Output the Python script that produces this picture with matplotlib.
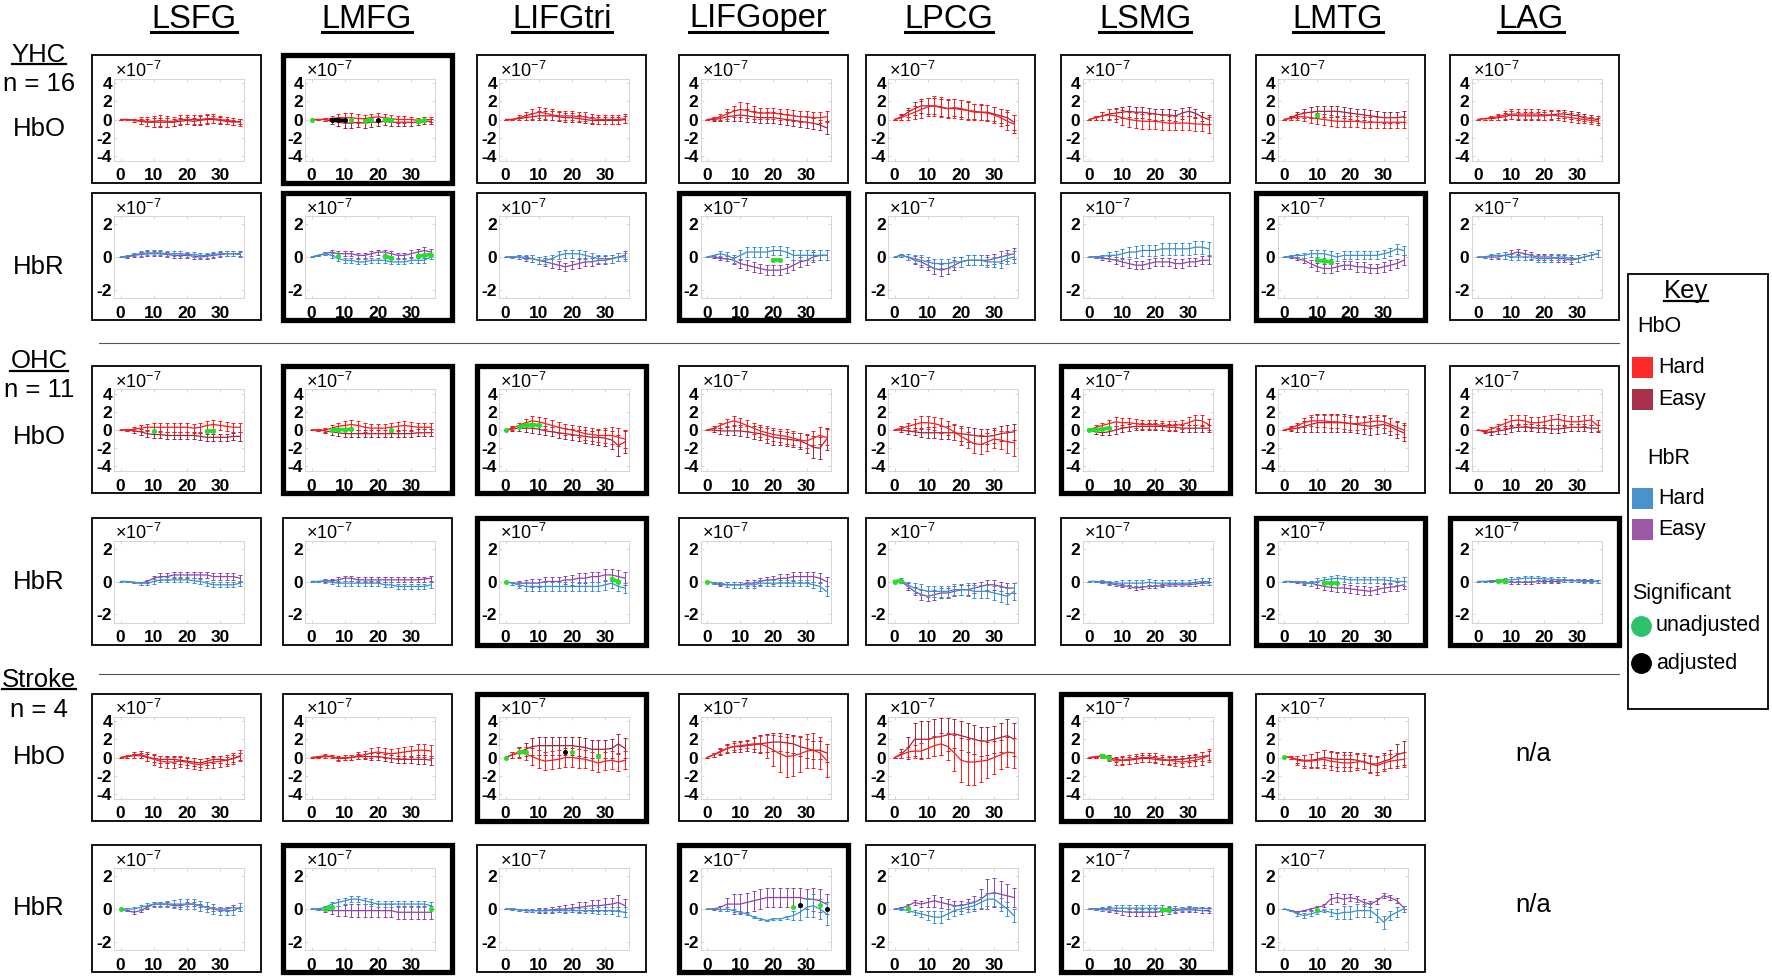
import matplotlib
matplotlib.use('Agg')
import matplotlib.pyplot as plt
from matplotlib.patches import Rectangle
from matplotlib.lines import Line2D

plt.rcParams['font.family'] = ['Liberation Sans', 'DejaVu Sans']
plt.rcParams['mathtext.fontset'] = 'custom'
plt.rcParams['mathtext.rm'] = 'Liberation Sans'
plt.rcParams['mathtext.it'] = 'Liberation Sans:italic'
plt.rcParams['mathtext.bf'] = 'Liberation Sans:bold'
plt.rcParams['axes.unicode_minus'] = False

# ---------------- data (units of 1e-7) ----------------
time_s = [0, 2, 4, 6, 8, 10, 12, 14, 16, 18, 20, 22, 24, 26, 28, 30, 32, 34, 36]
regions = ['LSFG', 'LMFG', 'LIFGtri', 'LIFGoper', 'LPCG', 'LSMG', 'LMTG', 'LAG']
groups = [('YHC', 'n = 16'), ('OHC', 'n = 11'), ('Stroke', 'n = 4')]

# YHC HbO
yhc_hbo_hard = [
    [0, 0, -0.1, -0.1, -0.2, -0.2, -0.1, -0.2, -0.2, 0, 0, 0, 0, 0.1, 0.1, 0, -0.1, -0.2, -0.3],
    [0, 0, 0, 0.1, 0.2, 0.2, 0.2, 0.1, 0.1, 0.2, 0.3, 0.2, 0.1, 0, 0, 0, -0.1, 0, 0],
    [0, 0, 0.2, 0.4, 0.6, 0.8, 0.7, 0.5, 0.4, 0.4, 0.4, 0.3, 0.3, 0.1, 0, 0, 0, 0, 0.1],
    [0, 0.1, 0.3, 0.6, 0.9, 1.1, 1.0, 0.8, 0.7, 0.7, 0.7, 0.6, 0.5, 0.4, 0.3, 0.3, 0.2, 0.2, 0.3],
    [0, 0.2, 0.5, 0.8, 1.1, 1.4, 1.5, 1.4, 1.2, 1.2, 1.1, 1.0, 0.8, 0.8, 0.7, 0.5, 0.2, -0.2, -0.5],
    [0, 0.2, 0.4, 0.5, 0.4, 0.2, 0, -0.1, -0.2, -0.2, -0.2, -0.3, -0.4, -0.4, -0.4, -0.4, -0.5, -0.5, -0.6],
    [0, 0.1, 0.3, 0.3, 0.2, 0.1, 0, -0.1, -0.2, -0.2, -0.2, -0.2, -0.3, -0.3, -0.3, -0.3, -0.3, -0.3, -0.3],
    [0, 0.1, 0.2, 0.3, 0.5, 0.6, 0.6, 0.6, 0.6, 0.6, 0.5, 0.5, 0.4, 0.3, 0.2, 0.1, 0, -0.1, -0.2],
]
yhc_hbo_easy = [
    [0, 0, -0.1, -0.2, -0.3, -0.3, -0.3, -0.3, -0.3, -0.2, -0.1, -0.2, -0.1, 0, 0, -0.1, -0.2, -0.3, -0.2],
    [0, 0, 0, -0.2, -0.3, -0.4, -0.4, -0.3, -0.4, -0.3, -0.3, -0.2, -0.3, -0.3, -0.3, -0.3, -0.3, -0.2, -0.2],
    [0, 0, 0.1, 0.2, 0.3, 0.4, 0.4, 0.4, 0.3, 0.2, 0.2, 0.1, 0, -0.1, -0.1, -0.1, -0.1, -0.1, 0],
    [0, 0, 0.1, 0.3, 0.4, 0.5, 0.4, 0.3, 0.2, 0.2, 0.2, 0.1, 0, -0.1, -0.2, -0.3, -0.4, -0.6, -0.9],
    [0, 0.3, 0.8, 1.2, 1.5, 1.5, 1.5, 1.3, 1.2, 1.3, 1.2, 1.0, 0.9, 0.8, 0.8, 0.6, 0.4, 0.2, -0.3],
    [0, 0.2, 0.4, 0.6, 0.7, 0.8, 0.9, 0.8, 0.8, 0.7, 0.6, 0.5, 0.5, 0.4, 0.7, 0.9, 0.7, 0.3, 0],
    [0, 0.2, 0.5, 0.7, 0.8, 0.9, 0.9, 0.9, 0.9, 0.8, 0.7, 0.6, 0.5, 0.4, 0.3, 0.2, 0.2, 0.2, 0.3],
    [0, 0.1, 0.1, 0.2, 0.3, 0.5, 0.4, 0.4, 0.4, 0.4, 0.4, 0.5, 0.6, 0.6, 0.5, 0.4, 0.2, 0.1, 0],
]
yhc_hbo_hard_err = [
    [0, 0.1, 0.2, 0.4, 0.5, 0.6, 0.6, 0.6, 0.5, 0.5, 0.5, 0.5, 0.5, 0.5, 0.5, 0.4, 0.4, 0.4, 0.4],
    [0, 0.1, 0.2, 0.3, 0.4, 0.5, 0.5, 0.5, 0.4, 0.4, 0.4, 0.4, 0.4, 0.4, 0.4, 0.3, 0.3, 0.3, 0.3],
    [0, 0.1, 0.3, 0.4, 0.5, 0.6, 0.6, 0.6, 0.5, 0.5, 0.5, 0.5, 0.5, 0.5, 0.5, 0.5, 0.5, 0.5, 0.5],
    [0, 0.2, 0.3, 0.5, 0.6, 0.8, 0.8, 0.7, 0.6, 0.6, 0.6, 0.6, 0.6, 0.6, 0.6, 0.6, 0.6, 0.6, 0.6],
    [0, 0.3, 0.5, 0.7, 0.9, 1.0, 1.1, 1.1, 1.0, 1.0, 1.0, 1.0, 0.9, 0.9, 0.9, 0.9, 0.9, 1.0, 1.0],
    [0, 0.2, 0.4, 0.6, 0.7, 0.8, 0.8, 0.8, 0.8, 0.8, 0.8, 0.8, 0.8, 0.8, 0.8, 0.8, 0.8, 0.8, 0.9],
    [0, 0.2, 0.3, 0.5, 0.6, 0.6, 0.6, 0.6, 0.6, 0.6, 0.6, 0.6, 0.6, 0.6, 0.6, 0.6, 0.6, 0.6, 0.6],
    [0, 0.1, 0.2, 0.3, 0.4, 0.5, 0.5, 0.5, 0.5, 0.5, 0.5, 0.5, 0.5, 0.5, 0.5, 0.5, 0.4, 0.4, 0.4],
]
yhc_hbo_easy_err = [
    [0, 0.1, 0.2, 0.3, 0.4, 0.5, 0.5, 0.5, 0.4, 0.4, 0.4, 0.4, 0.5, 0.5, 0.4, 0.4, 0.3, 0.3, 0.3],
    [0, 0.1, 0.2, 0.3, 0.4, 0.5, 0.5, 0.5, 0.5, 0.5, 0.4, 0.4, 0.4, 0.4, 0.4, 0.4, 0.3, 0.3, 0.3],
    [0, 0.1, 0.2, 0.3, 0.4, 0.5, 0.5, 0.5, 0.5, 0.5, 0.5, 0.4, 0.4, 0.4, 0.4, 0.4, 0.4, 0.4, 0.4],
    [0, 0.2, 0.3, 0.5, 0.6, 0.7, 0.7, 0.6, 0.6, 0.6, 0.6, 0.6, 0.6, 0.6, 0.6, 0.6, 0.6, 0.6, 0.7],
    [0, 0.3, 0.5, 0.7, 0.8, 0.9, 0.9, 0.9, 0.9, 0.9, 0.9, 0.9, 0.8, 0.8, 0.8, 0.8, 0.8, 0.8, 0.8],
    [0, 0.2, 0.4, 0.5, 0.6, 0.6, 0.6, 0.6, 0.6, 0.6, 0.6, 0.6, 0.6, 0.6, 0.6, 0.5, 0.5, 0.5, 0.5],
    [0, 0.2, 0.3, 0.5, 0.6, 0.6, 0.6, 0.6, 0.6, 0.6, 0.6, 0.6, 0.6, 0.6, 0.6, 0.6, 0.6, 0.6, 0.6],
    [0, 0.1, 0.2, 0.3, 0.4, 0.4, 0.4, 0.4, 0.4, 0.4, 0.4, 0.4, 0.4, 0.4, 0.4, 0.4, 0.4, 0.4, 0.4],
]

# YHC HbR
yhc_hbr_hard = [
    [0, 0.05, 0.15, 0.2, 0.25, 0.25, 0.25, 0.2, 0.2, 0.2, 0.15, 0.15, 0.1, 0.1, 0.15, 0.2, 0.2, 0.2, 0.15],
    [0, 0.1, 0.2, 0.1, -0.1, -0.2, -0.2, -0.3, -0.3, -0.2, -0.2, -0.2, -0.3, -0.3, -0.3, -0.2, -0.2, -0.2, 0],
    [0, 0, 0, 0, -0.1, -0.2, -0.2, -0.1, 0.1, 0.2, 0.2, 0.2, 0.1, 0, -0.1, -0.1, -0.1, 0, 0],
    [0, 0.1, 0.2, 0.1, -0.1, 0.1, 0.3, 0.3, 0.3, 0.3, 0.4, 0.4, 0.3, 0.1, 0.1, 0.1, 0.1, 0.1, 0.1],
    [0, 0.1, 0, -0.1, -0.2, -0.3, -0.4, -0.4, -0.4, -0.3, -0.3, -0.2, -0.2, -0.2, -0.3, -0.3, -0.3, -0.1, 0],
    [0, 0, 0.05, 0.1, 0.1, 0.2, 0.3, 0.3, 0.4, 0.4, 0.4, 0.5, 0.5, 0.5, 0.5, 0.5, 0.6, 0.6, 0.5],
    [0, 0.05, 0.1, 0.1, 0.2, 0.2, 0.2, 0.1, 0, 0.1, 0.1, 0.1, 0.1, 0.1, 0.1, 0.2, 0.3, 0.5, 0.4],
    [0, 0, 0.1, 0.1, 0.1, 0, 0, 0, 0, -0.1, -0.1, -0.1, 0, 0, -0.1, -0.1, 0, 0.1, 0.2],
]
yhc_hbr_easy = [
    [0, 0, 0.1, 0.15, 0.2, 0.2, 0.2, 0.15, 0.1, 0.1, 0.1, 0.05, 0, 0.05, 0.1, 0.15, 0.2, 0.2, 0.2],
    [0, 0.1, 0.2, 0.3, 0.2, 0.2, 0.2, 0.1, 0.1, 0.2, 0.3, 0.3, 0.2, 0.1, 0.1, 0.2, 0.3, 0.4, 0.3],
    [0, 0, 0, -0.1, -0.1, -0.2, -0.3, -0.4, -0.5, -0.6, -0.5, -0.4, -0.3, -0.3, -0.2, -0.2, -0.1, 0, 0.1],
    [0, 0, -0.1, -0.1, -0.2, -0.4, -0.5, -0.6, -0.7, -0.8, -0.8, -0.8, -0.7, -0.5, -0.3, -0.2, 0, 0.1, 0.1],
    [0, 0.1, 0, -0.2, -0.3, -0.5, -0.7, -0.8, -0.7, -0.5, -0.3, -0.2, -0.2, -0.2, -0.2, -0.1, 0, 0.1, 0.2],
    [0, 0, -0.1, -0.1, -0.2, -0.3, -0.4, -0.5, -0.5, -0.4, -0.3, -0.3, -0.3, -0.4, -0.4, -0.3, -0.3, -0.2, -0.2],
    [0, 0, -0.1, -0.2, -0.4, -0.6, -0.7, -0.7, -0.6, -0.5, -0.5, -0.6, -0.6, -0.7, -0.7, -0.6, -0.5, -0.4, -0.2],
    [0, 0, 0, 0, 0.1, 0.2, 0.3, 0.2, 0.1, 0, 0, 0, -0.1, -0.1, -0.2, -0.1, 0, 0.1, 0.2],
]
yhc_hbr_hard_err = [
    [0, 0.05, 0.1, 0.15, 0.15, 0.15, 0.15, 0.15, 0.15, 0.15, 0.15, 0.15, 0.15, 0.15, 0.15, 0.15, 0.15, 0.15, 0.15],
    [0, 0.05, 0.1, 0.15, 0.15, 0.15, 0.15, 0.15, 0.15, 0.15, 0.15, 0.15, 0.15, 0.15, 0.15, 0.15, 0.15, 0.15, 0.15],
    [0, 0.05, 0.1, 0.15, 0.2, 0.2, 0.25, 0.25, 0.25, 0.25, 0.25, 0.25, 0.25, 0.25, 0.25, 0.25, 0.25, 0.25, 0.25],
    [0, 0.05, 0.15, 0.2, 0.25, 0.3, 0.3, 0.3, 0.3, 0.3, 0.3, 0.3, 0.3, 0.3, 0.3, 0.3, 0.3, 0.3, 0.3],
    [0, 0.1, 0.2, 0.25, 0.3, 0.3, 0.3, 0.3, 0.3, 0.3, 0.3, 0.3, 0.3, 0.3, 0.3, 0.3, 0.35, 0.35, 0.35],
    [0, 0.05, 0.1, 0.2, 0.25, 0.3, 0.3, 0.35, 0.35, 0.35, 0.35, 0.35, 0.35, 0.35, 0.35, 0.35, 0.4, 0.4, 0.4],
    [0, 0.05, 0.1, 0.15, 0.2, 0.2, 0.25, 0.25, 0.25, 0.25, 0.25, 0.25, 0.25, 0.25, 0.25, 0.25, 0.25, 0.3, 0.3],
    [0, 0.05, 0.1, 0.15, 0.2, 0.2, 0.2, 0.2, 0.2, 0.2, 0.2, 0.2, 0.2, 0.2, 0.2, 0.2, 0.2, 0.2, 0.2],
]
yhc_hbr_easy_err = [
    [0, 0.05, 0.1, 0.15, 0.15, 0.15, 0.15, 0.15, 0.15, 0.15, 0.15, 0.15, 0.15, 0.15, 0.15, 0.15, 0.15, 0.15, 0.15],
    [0, 0.05, 0.1, 0.15, 0.15, 0.15, 0.15, 0.15, 0.15, 0.15, 0.15, 0.15, 0.15, 0.15, 0.15, 0.2, 0.2, 0.2, 0.2],
    [0, 0.05, 0.1, 0.15, 0.2, 0.2, 0.25, 0.25, 0.25, 0.25, 0.25, 0.25, 0.25, 0.25, 0.25, 0.25, 0.25, 0.25, 0.25],
    [0, 0.05, 0.1, 0.15, 0.2, 0.25, 0.3, 0.3, 0.3, 0.3, 0.3, 0.3, 0.3, 0.3, 0.3, 0.3, 0.3, 0.3, 0.3],
    [0, 0.1, 0.2, 0.25, 0.3, 0.3, 0.35, 0.35, 0.35, 0.3, 0.3, 0.3, 0.3, 0.3, 0.3, 0.3, 0.35, 0.35, 0.35],
    [0, 0.05, 0.1, 0.15, 0.2, 0.25, 0.25, 0.25, 0.25, 0.25, 0.25, 0.25, 0.25, 0.25, 0.25, 0.25, 0.25, 0.25, 0.25],
    [0, 0.05, 0.1, 0.15, 0.2, 0.25, 0.25, 0.25, 0.25, 0.25, 0.25, 0.3, 0.3, 0.3, 0.3, 0.3, 0.3, 0.3, 0.3],
    [0, 0.05, 0.1, 0.15, 0.2, 0.2, 0.2, 0.2, 0.2, 0.2, 0.2, 0.2, 0.2, 0.2, 0.2, 0.2, 0.2, 0.2, 0.2],
]

# OHC HbO
ohc_hbo_hard = [
    [0, 0, 0.1, 0.2, 0.3, 0.3, 0.3, 0.3, 0.3, 0.3, 0.3, 0.2, 0.3, 0.5, 0.6, 0.5, 0.4, 0.3, 0.3],
    [0, 0, 0, 0.2, 0.4, 0.5, 0.6, 0.5, 0.3, 0.2, 0.2, 0.2, 0.3, 0.4, 0.5, 0.4, 0.3, 0.3, 0.3],
    [0, 0.2, 0.5, 0.8, 1.0, 0.9, 0.7, 0.5, 0.3, 0.1, 0, -0.2, -0.4, -0.5, -0.6, -0.6, -0.6, -0.8, -1.0],
    [0, 0.2, 0.5, 0.8, 1.0, 0.8, 0.5, 0.2, -0.1, -0.3, -0.5, -0.6, -0.7, -0.9, -1.1, -1.2, -0.9, -0.6, -0.8],
    [0, 0.2, 0.4, 0.6, 0.8, 0.8, 0.7, 0.5, 0.2, -0.2, -0.7, -1.1, -1.5, -1.6, -1.3, -1.0, -1.1, -1.3, -1.4],
    [0, 0.3, 0.5, 0.7, 0.9, 0.8, 0.8, 0.7, 0.6, 0.6, 0.6, 0.5, 0.5, 0.5, 0.6, 0.8, 1.1, 1.0, 0.6],
    [0, 0.2, 0.5, 0.8, 1.0, 1.0, 1.0, 0.9, 0.9, 0.8, 0.7, 0.7, 0.8, 0.9, 1.0, 0.9, 0.6, 0.3, 0],
    [0, -0.1, 0.1, 0.4, 0.7, 1.0, 1.1, 1.0, 0.8, 0.8, 0.9, 1.1, 1.2, 1.0, 0.9, 0.9, 1.0, 1.1, 0.5],
]
ohc_hbo_easy = [
    [0, 0, -0.1, -0.2, -0.4, -0.5, -0.5, -0.6, -0.6, -0.6, -0.6, -0.6, -0.7, -0.8, -0.8, -0.8, -0.8, -0.7, -0.7],
    [0, 0, -0.1, -0.2, -0.3, -0.4, -0.4, -0.4, -0.4, -0.4, -0.4, -0.4, -0.4, -0.4, -0.4, -0.4, -0.3, -0.3, -0.3],
    [0, 0.1, 0.2, 0.2, 0.2, 0.1, -0.1, -0.2, -0.3, -0.4, -0.5, -0.6, -0.7, -0.8, -0.8, -0.9, -1.1, -1.7, -1.3],
    [0, 0, -0.1, -0.1, -0.1, -0.1, -0.2, -0.3, -0.4, -0.6, -0.8, -0.9, -1.0, -1.1, -1.2, -1.5, -1.9, -2.0, -1.0],
    [0, 0, -0.1, -0.2, -0.3, -0.3, -0.3, -0.3, -0.3, -0.3, -0.4, -0.5, -0.6, -0.7, -0.7, -0.6, -0.4, -0.3, -0.2],
    [0, -0.2, -0.3, -0.2, 0, 0.2, 0.3, 0.4, 0.4, 0.4, 0.4, 0.4, 0.3, 0.3, 0.2, 0.2, 0.2, 0.2, 0.2],
    [0, 0.1, 0.2, 0.4, 0.6, 0.8, 0.8, 0.8, 0.8, 0.8, 0.7, 0.6, 0.5, 0.4, 0.5, 0.6, 0.4, 0, -0.3],
    [0, -0.2, -0.3, -0.1, 0, 0.2, 0.3, 0.3, 0.3, 0.2, 0.2, 0.1, 0.1, 0.2, 0.3, 0.3, 0.3, 0.2, 0.2],
]
ohc_hbo_hard_err = [
    [0, 0.1, 0.2, 0.3, 0.4, 0.5, 0.5, 0.5, 0.5, 0.5, 0.5, 0.5, 0.5, 0.5, 0.5, 0.5, 0.5, 0.5, 0.5],
    [0, 0.1, 0.2, 0.3, 0.4, 0.5, 0.5, 0.5, 0.5, 0.5, 0.5, 0.5, 0.5, 0.5, 0.5, 0.5, 0.5, 0.5, 0.5],
    [0, 0.2, 0.3, 0.4, 0.5, 0.5, 0.6, 0.6, 0.6, 0.6, 0.6, 0.6, 0.7, 0.7, 0.7, 0.8, 0.9, 1.0, 1.0],
    [0, 0.2, 0.3, 0.4, 0.5, 0.5, 0.6, 0.6, 0.7, 0.7, 0.7, 0.7, 0.8, 0.8, 0.8, 0.8, 0.8, 0.9, 0.9],
    [0, 0.2, 0.4, 0.6, 0.7, 0.7, 0.7, 0.8, 0.8, 0.9, 0.9, 0.9, 1.0, 1.0, 1.0, 1.0, 1.0, 1.2, 1.4],
    [0, 0.2, 0.3, 0.4, 0.5, 0.5, 0.5, 0.5, 0.5, 0.5, 0.5, 0.5, 0.5, 0.5, 0.5, 0.6, 0.6, 0.6, 0.6],
    [0, 0.2, 0.3, 0.5, 0.6, 0.7, 0.7, 0.7, 0.7, 0.7, 0.7, 0.7, 0.7, 0.7, 0.7, 0.7, 0.7, 0.7, 0.8],
    [0, 0.1, 0.2, 0.3, 0.5, 0.6, 0.6, 0.6, 0.6, 0.6, 0.6, 0.6, 0.6, 0.6, 0.6, 0.6, 0.6, 0.6, 0.6],
]
ohc_hbo_easy_err = [
    [0, 0.1, 0.2, 0.3, 0.4, 0.4, 0.4, 0.4, 0.4, 0.4, 0.4, 0.4, 0.4, 0.4, 0.4, 0.4, 0.4, 0.4, 0.5],
    [0, 0.1, 0.2, 0.3, 0.4, 0.4, 0.4, 0.4, 0.4, 0.4, 0.4, 0.4, 0.4, 0.4, 0.4, 0.4, 0.4, 0.4, 0.4],
    [0, 0.2, 0.3, 0.4, 0.5, 0.5, 0.5, 0.5, 0.6, 0.6, 0.6, 0.6, 0.7, 0.7, 0.8, 0.9, 1.0, 1.2, 1.2],
    [0, 0.2, 0.3, 0.4, 0.5, 0.6, 0.6, 0.7, 0.7, 0.8, 0.8, 0.8, 0.8, 0.8, 0.9, 1.0, 1.2, 1.2, 1.2],
    [0, 0.2, 0.3, 0.4, 0.5, 0.6, 0.6, 0.7, 0.7, 0.8, 0.8, 0.8, 0.8, 0.8, 0.8, 0.8, 0.8, 0.9, 0.9],
    [0, 0.2, 0.3, 0.3, 0.4, 0.4, 0.4, 0.4, 0.4, 0.4, 0.4, 0.4, 0.4, 0.4, 0.4, 0.4, 0.4, 0.4, 0.4],
    [0, 0.2, 0.4, 0.6, 0.8, 1.0, 1.0, 1.0, 1.0, 1.0, 0.9, 0.9, 0.9, 0.9, 0.9, 0.9, 0.9, 0.9, 0.9],
    [0, 0.1, 0.2, 0.3, 0.4, 0.4, 0.4, 0.4, 0.4, 0.4, 0.4, 0.4, 0.4, 0.4, 0.4, 0.4, 0.4, 0.4, 0.4],
]

# OHC HbR
ohc_hbr_hard = [
    [0, 0, -0.05, -0.1, -0.1, 0, 0.1, 0.1, 0.1, 0.1, 0.1, 0.05, 0, -0.1, -0.2, -0.2, -0.2, -0.2, -0.1],
    [0, 0, 0, -0.05, -0.1, -0.1, -0.1, -0.1, -0.1, -0.1, -0.1, -0.2, -0.2, -0.3, -0.3, -0.3, -0.3, -0.3, -0.2],
    [0, -0.1, -0.2, -0.3, -0.3, -0.3, -0.3, -0.3, -0.3, -0.3, -0.3, -0.3, -0.3, -0.3, -0.3, -0.2, -0.1, -0.3, -0.4],
    [0, -0.1, -0.1, -0.2, -0.2, -0.2, -0.2, -0.2, -0.1, -0.1, -0.1, -0.1, -0.1, -0.1, -0.1, -0.1, -0.2, -0.3, -0.6],
    [0, 0.1, -0.2, -0.4, -0.5, -0.6, -0.6, -0.6, -0.6, -0.5, -0.5, -0.5, -0.6, -0.6, -0.6, -0.7, -0.8, -0.9, -0.6],
    [0, 0, 0, -0.05, -0.1, -0.1, -0.1, -0.1, -0.1, -0.05, -0.1, -0.1, -0.1, -0.1, -0.1, -0.1, -0.05, 0, 0],
    [0, 0, 0, -0.05, -0.1, 0, 0.1, 0.15, 0.2, 0.15, 0.1, 0.1, 0.1, 0.1, 0.1, 0.1, 0.05, 0, 0],
    [0, 0, 0.05, 0.05, 0.1, 0.1, 0.15, 0.2, 0.2, 0.2, 0.15, 0.15, 0.1, 0.1, 0.05, 0.05, 0, 0, 0],
]
ohc_hbr_easy = [
    [0, 0, -0.05, -0.1, 0, 0.2, 0.3, 0.3, 0.4, 0.4, 0.4, 0.4, 0.4, 0.4, 0.3, 0.3, 0.3, 0.3, 0.2],
    [0, 0, 0.05, 0.05, 0.1, 0.2, 0.2, 0.1, 0.1, 0.1, 0.1, 0.1, 0.1, 0.1, 0.1, 0.1, 0.1, 0.15, 0.2],
    [0, -0.1, -0.1, -0.1, -0.1, -0.1, 0, 0, 0, 0.1, 0.1, 0.2, 0.2, 0.3, 0.3, 0.4, 0.4, 0.3, 0.2],
    [0, -0.1, -0.2, -0.2, -0.2, -0.2, -0.1, -0.1, 0, 0.1, 0.1, 0.2, 0.2, 0.3, 0.3, 0.3, 0.3, 0.2, 0],
    [0, 0, -0.3, -0.6, -0.8, -0.9, -0.8, -0.7, -0.7, -0.6, -0.5, -0.5, -0.4, -0.3, -0.2, -0.2, -0.3, -0.4, -0.4],
    [0, 0, -0.05, -0.1, -0.2, -0.25, -0.3, -0.4, -0.35, -0.3, -0.3, -0.25, -0.2, -0.2, -0.2, -0.2, -0.15, -0.1, -0.1],
    [0, 0, -0.05, -0.1, -0.1, -0.2, -0.3, -0.35, -0.4, -0.4, -0.45, -0.5, -0.55, -0.6, -0.5, -0.4, -0.35, -0.3, -0.2],
    [0, 0, 0, 0, 0, -0.05, -0.05, -0.05, -0.05, 0, 0, 0, 0, 0.05, 0.05, 0.05, 0.05, 0.05, 0],
]
ohc_hbr_hard_err = [
    [0, 0.05, 0.05, 0.1, 0.1, 0.15, 0.15, 0.15, 0.15, 0.15, 0.15, 0.15, 0.15, 0.15, 0.15, 0.15, 0.15, 0.15, 0.15],
    [0, 0.05, 0.1, 0.1, 0.15, 0.15, 0.15, 0.15, 0.15, 0.15, 0.15, 0.15, 0.15, 0.15, 0.15, 0.15, 0.15, 0.15, 0.2],
    [0, 0.1, 0.2, 0.25, 0.3, 0.3, 0.3, 0.3, 0.3, 0.3, 0.3, 0.3, 0.3, 0.3, 0.3, 0.3, 0.3, 0.3, 0.3],
    [0, 0.05, 0.1, 0.15, 0.2, 0.2, 0.2, 0.2, 0.2, 0.2, 0.2, 0.2, 0.2, 0.2, 0.2, 0.2, 0.2, 0.25, 0.3],
    [0, 0.1, 0.2, 0.3, 0.35, 0.35, 0.35, 0.35, 0.35, 0.35, 0.35, 0.4, 0.4, 0.4, 0.4, 0.4, 0.45, 0.5, 0.5],
    [0, 0.05, 0.1, 0.1, 0.15, 0.2, 0.2, 0.2, 0.2, 0.2, 0.2, 0.2, 0.2, 0.2, 0.2, 0.2, 0.2, 0.2, 0.2],
    [0, 0.05, 0.05, 0.1, 0.15, 0.2, 0.2, 0.2, 0.2, 0.2, 0.2, 0.2, 0.2, 0.2, 0.2, 0.2, 0.2, 0.2, 0.25],
    [0, 0.05, 0.05, 0.1, 0.1, 0.15, 0.15, 0.15, 0.15, 0.15, 0.15, 0.15, 0.15, 0.15, 0.1, 0.1, 0.1, 0.1, 0.1],
]
ohc_hbr_easy_err = [
    [0, 0.05, 0.05, 0.1, 0.1, 0.15, 0.2, 0.2, 0.2, 0.2, 0.2, 0.2, 0.2, 0.2, 0.2, 0.2, 0.2, 0.2, 0.2],
    [0, 0.05, 0.1, 0.1, 0.15, 0.15, 0.15, 0.15, 0.15, 0.15, 0.15, 0.15, 0.15, 0.15, 0.15, 0.15, 0.15, 0.15, 0.15],
    [0, 0.1, 0.15, 0.2, 0.25, 0.25, 0.25, 0.25, 0.25, 0.25, 0.3, 0.3, 0.3, 0.3, 0.3, 0.35, 0.35, 0.4, 0.4],
    [0, 0.05, 0.1, 0.15, 0.2, 0.2, 0.2, 0.2, 0.2, 0.2, 0.25, 0.25, 0.25, 0.25, 0.3, 0.3, 0.3, 0.3, 0.3],
    [0, 0.1, 0.2, 0.25, 0.3, 0.3, 0.3, 0.3, 0.3, 0.3, 0.3, 0.3, 0.3, 0.3, 0.3, 0.3, 0.3, 0.3, 0.3],
    [0, 0.05, 0.05, 0.1, 0.1, 0.1, 0.1, 0.1, 0.1, 0.1, 0.1, 0.1, 0.1, 0.1, 0.1, 0.1, 0.1, 0.1, 0.1],
    [0, 0.05, 0.05, 0.1, 0.15, 0.2, 0.2, 0.25, 0.25, 0.25, 0.25, 0.25, 0.25, 0.25, 0.25, 0.25, 0.25, 0.25, 0.25],
    [0, 0.05, 0.05, 0.05, 0.1, 0.1, 0.1, 0.1, 0.1, 0.1, 0.1, 0.1, 0.1, 0.1, 0.1, 0.1, 0.1, 0.1, 0.1],
]

# Stroke HbO (no LAG)
stroke_hbo_hard = [
    [0, 0.1, 0.3, 0.3, 0.1, -0.2, -0.4, -0.5, -0.5, -0.4, -0.5, -0.7, -0.8, -0.6, -0.5, -0.4, -0.3, -0.1, 0.2],
    [0, 0.1, 0.2, 0.1, -0.1, 0, 0, 0.2, 0.3, 0.5, 0.6, 0.5, 0.4, 0.5, 0.6, 0.7, 0.8, 0.8, 0.7],
    [0, 0.3, 0.5, 0.4, 0.1, -0.2, -0.4, -0.3, -0.2, 0, 0, -0.1, -0.2, -0.4, -0.6, -0.4, -0.3, -0.5, -0.3],
    [0, 0.3, 0.7, 1.0, 1.2, 1.3, 1.4, 1.5, 1.5, 1.2, 0.8, 0.4, 0.1, 0.2, 0.4, 0.7, 0.8, 0.5, -0.3],
    [0, 0.3, 0.6, 0.7, 0.7, 1.0, 1.3, 1.5, 1.2, 0.5, -0.3, -0.5, -0.5, -0.4, -0.3, 0, 0.3, 0.6, 0.5],
    [0, 0.1, 0.2, -0.1, -0.4, -0.3, -0.2, -0.1, 0, 0, 0, -0.2, -0.3, -0.4, -0.5, -0.4, -0.3, -0.1, 0.2],
    [0.1, 0, -0.3, -0.4, -0.4, -0.3, -0.2, -0.4, -0.5, -0.6, -0.6, -0.5, -0.4, -0.7, -0.9, -0.6, -0.4, -0.3, -0.2],
]
stroke_hbo_easy = [
    [0, 0.1, 0.2, 0.2, 0, -0.1, -0.2, -0.2, -0.2, -0.3, -0.4, -0.5, -0.6, -0.4, -0.2, -0.2, -0.3, -0.1, 0.1],
    [0, 0, 0.1, 0.1, -0.1, -0.1, 0, 0.1, 0.1, 0.1, 0.1, 0, -0.1, -0.2, -0.2, -0.2, -0.2, -0.2, -0.3],
    [0, 0.3, 0.6, 0.9, 1.2, 1.3, 1.3, 1.3, 1.3, 1.3, 1.3, 1.2, 1.1, 0.9, 0.9, 0.9, 1.0, 1.5, 1.0],
    [0, 0.3, 0.6, 1.0, 1.2, 1.2, 1.3, 1.4, 1.5, 1.6, 1.7, 1.7, 1.6, 1.5, 1.2, 1.0, 0.8, 0.8, 0.5],
    [0, 0.4, 1.0, 2.0, 2.0, 2.0, 2.2, 2.3, 2.5, 2.6, 2.4, 2.2, 2.0, 1.8, 1.8, 2.0, 2.2, 2.4, 2.0],
    [0, 0, 0.2, 0, -0.2, -0.3, -0.3, -0.2, -0.1, -0.1, -0.2, -0.3, -0.3, -0.2, -0.2, -0.1, 0, 0.1, 0.2],
    [0.1, 0, -0.2, -0.3, -0.3, -0.2, 0, -0.1, -0.2, -0.2, -0.2, -0.3, -0.5, -0.7, -0.7, -0.4, -0.2, 0.3, 0.5],
]
stroke_hbo_hard_err = [
    [0, 0.2, 0.3, 0.4, 0.5, 0.6, 0.6, 0.6, 0.6, 0.6, 0.6, 0.6, 0.6, 0.6, 0.6, 0.6, 0.6, 0.6, 0.6],
    [0, 0.1, 0.2, 0.2, 0.3, 0.3, 0.3, 0.4, 0.4, 0.5, 0.5, 0.5, 0.5, 0.5, 0.6, 0.6, 0.7, 0.7, 0.7],
    [0, 0.3, 0.5, 0.7, 0.9, 1.0, 1.0, 1.0, 1.0, 1.0, 1.0, 1.0, 1.0, 1.0, 1.0, 1.0, 1.0, 1.0, 1.0],
    [0, 0.2, 0.3, 0.4, 0.4, 0.4, 0.4, 0.6, 0.9, 1.3, 1.7, 2.0, 2.2, 2.2, 2.0, 1.9, 1.9, 1.8, 1.8],
    [0, 0.3, 0.5, 0.7, 0.9, 1.0, 1.1, 1.2, 1.5, 2.0, 2.4, 2.5, 2.5, 2.3, 2.0, 1.8, 1.6, 1.6, 1.6],
    [0, 0.1, 0.2, 0.3, 0.4, 0.5, 0.5, 0.5, 0.5, 0.5, 0.5, 0.5, 0.5, 0.5, 0.5, 0.5, 0.6, 0.7, 0.7],
    [0, 0.2, 0.5, 0.7, 0.8, 0.9, 1.0, 1.0, 1.0, 0.9, 0.9, 0.9, 0.9, 1.0, 1.0, 0.9, 0.8, 0.8, 0.8],
]
stroke_hbo_easy_err = [
    [0, 0.1, 0.2, 0.3, 0.4, 0.4, 0.4, 0.4, 0.4, 0.4, 0.4, 0.4, 0.4, 0.4, 0.4, 0.4, 0.4, 0.4, 0.4],
    [0, 0.1, 0.1, 0.2, 0.2, 0.2, 0.3, 0.3, 0.3, 0.4, 0.4, 0.4, 0.4, 0.4, 0.4, 0.4, 0.5, 0.5, 0.5],
    [0, 0.3, 0.5, 0.7, 0.9, 1.0, 1.0, 1.0, 1.0, 1.0, 1.0, 1.0, 1.0, 1.0, 1.0, 1.0, 1.0, 1.1, 1.1],
    [0, 0.2, 0.3, 0.5, 0.6, 0.6, 0.6, 0.8, 1.0, 1.0, 1.0, 1.0, 1.0, 1.0, 1.0, 1.0, 1.0, 1.0, 1.0],
    [0, 0.5, 1.2, 1.8, 2.0, 2.0, 2.0, 2.0, 1.8, 1.6, 1.6, 1.6, 1.6, 1.6, 1.5, 1.5, 1.6, 1.8, 1.8],
    [0, 0.1, 0.2, 0.3, 0.3, 0.4, 0.4, 0.4, 0.4, 0.4, 0.4, 0.4, 0.4, 0.4, 0.4, 0.4, 0.4, 0.5, 0.5],
    [0, 0.2, 0.4, 0.6, 0.7, 0.8, 0.8, 0.8, 0.8, 0.8, 0.8, 0.8, 0.8, 0.9, 0.9, 0.9, 1.0, 1.2, 1.3],
]

# Stroke HbR (no LAG)
stroke_hbr_hard = [
    [0, 0, 0, 0.1, 0.2, 0.3, 0.3, 0.3, 0.3, 0.3, 0.3, 0.3, 0.2, 0.1, 0, -0.1, -0.1, -0.1, 0.1],
    [0, 0, 0.1, 0.3, 0.4, 0.5, 0.6, 0.6, 0.5, 0.4, 0.3, 0.3, 0.3, 0.3, 0.3, 0.3, 0.3, 0.3, 0.2],
    [0, 0, -0.05, -0.1, -0.1, -0.1, -0.1, -0.1, -0.1, -0.1, -0.1, -0.1, -0.1, -0.1, -0.1, -0.1, -0.1, -0.15, -0.2],
    [0, 0, -0.05, 0, -0.1, -0.2, -0.3, -0.5, -0.6, -0.7, -0.6, -0.6, -0.5, -0.4, -0.2, 0.1, 0.2, 0, -0.3],
    [0, 0, -0.1, -0.2, -0.3, -0.4, -0.5, -0.5, -0.3, -0.1, 0, 0.1, 0.2, 0.4, 0.6, 0.6, 0.3, 0, -0.4],
    [0, 0, 0, 0.05, 0.05, 0.05, 0.05, 0.05, 0.05, 0.05, 0.05, 0.05, 0, 0, 0, 0.05, 0.05, 0.05, 0],
    [0, -0.1, -0.3, -0.4, -0.3, -0.2, -0.1, -0.2, -0.3, -0.2, -0.2, -0.1, -0.1, -0.1, -0.4, -0.8, -0.4, -0.2, 0],
]
stroke_hbr_easy = [
    [0, -0.1, -0.2, -0.1, 0.1, 0.3, 0.3, 0.3, 0.2, 0.2, 0.3, 0.3, 0.2, 0.1, 0, 0, 0, 0.1, 0],
    [0, 0, -0.1, -0.1, -0.1, -0.1, -0.1, -0.1, -0.1, -0.1, -0.1, -0.1, -0.1, -0.2, -0.2, -0.2, -0.2, -0.2, -0.2],
    [0, 0, -0.05, -0.1, -0.1, -0.1, -0.1, -0.05, 0, 0, 0.05, 0.1, 0.15, 0.2, 0.2, 0.25, 0.3, 0.4, 0.2],
    [0, 0, 0.1, 0.3, 0.3, 0.3, 0.4, 0.5, 0.6, 0.7, 0.7, 0.7, 0.7, 0.7, 0.7, 0.6, 0.6, 0.5, 0.3],
    [0, 0.05, 0.2, 0.4, 0.3, 0.4, 0.5, 0.4, 0.3, 0.2, 0.2, 0.3, 0.4, 0.6, 0.9, 1.0, 0.9, 0.8, 0.7],
    [0, 0, -0.05, -0.05, -0.1, -0.15, -0.2, -0.2, -0.2, -0.2, -0.2, -0.15, -0.1, -0.1, -0.05, -0.05, -0.05, -0.1, -0.1],
    [0, -0.1, -0.2, -0.1, 0, 0.1, 0.2, 0.6, 0.7, 0.6, 0.7, 0.6, 0.4, 0.3, 0.5, 0.8, 0.7, 0.5, 0.1],
]
stroke_hbr_hard_err = [
    [0, 0.05, 0.1, 0.15, 0.15, 0.15, 0.15, 0.2, 0.25, 0.3, 0.3, 0.3, 0.3, 0.3, 0.3, 0.25, 0.25, 0.25, 0.25],
    [0, 0.05, 0.1, 0.15, 0.2, 0.2, 0.2, 0.2, 0.2, 0.2, 0.2, 0.2, 0.2, 0.2, 0.2, 0.2, 0.2, 0.2, 0.2],
    [0, 0.05, 0.05, 0.1, 0.1, 0.1, 0.1, 0.1, 0.1, 0.1, 0.1, 0.15, 0.15, 0.15, 0.2, 0.2, 0.2, 0.25, 0.3],
    [0, 0.02, 0.05, 0.1, 0.1, 0.05, 0.05, 0.05, 0.05, 0.05, 0.05, 0.05, 0.1, 0.3, 0.5, 0.6, 0.7, 0.6, 0.7],
    [0, 0.05, 0.1, 0.15, 0.2, 0.3, 0.35, 0.35, 0.3, 0.3, 0.3, 0.3, 0.3, 0.35, 0.4, 0.4, 0.4, 0.4, 0.4],
    [0, 0.05, 0.1, 0.15, 0.2, 0.2, 0.2, 0.2, 0.2, 0.2, 0.2, 0.2, 0.2, 0.2, 0.15, 0.15, 0.1, 0.1, 0.1],
    [0, 0.05, 0.1, 0.15, 0.15, 0.1, 0.1, 0.2, 0.3, 0.4, 0.4, 0.4, 0.4, 0.4, 0.4, 0.4, 0.3, 0.3, 0.2],
]
stroke_hbr_easy_err = [
    [0, 0.05, 0.1, 0.1, 0.1, 0.1, 0.1, 0.1, 0.1, 0.1, 0.1, 0.1, 0.1, 0.1, 0.1, 0.15, 0.15, 0.15, 0.15],
    [0, 0.05, 0.1, 0.2, 0.3, 0.35, 0.4, 0.4, 0.4, 0.4, 0.4, 0.4, 0.4, 0.4, 0.4, 0.4, 0.4, 0.4, 0.4],
    [0, 0.05, 0.05, 0.1, 0.1, 0.15, 0.15, 0.2, 0.2, 0.25, 0.25, 0.3, 0.3, 0.35, 0.35, 0.4, 0.4, 0.45, 0.4],
    [0, 0.05, 0.1, 0.4, 0.6, 0.6, 0.6, 0.6, 0.6, 0.6, 0.6, 0.6, 0.6, 0.6, 0.6, 0.6, 0.7, 0.7, 0.6],
    [0, 0.05, 0.1, 0.15, 0.2, 0.3, 0.35, 0.35, 0.3, 0.3, 0.3, 0.3, 0.4, 0.6, 0.9, 0.9, 0.8, 0.7, 0.6],
    [0, 0.05, 0.1, 0.15, 0.15, 0.2, 0.2, 0.2, 0.2, 0.2, 0.2, 0.2, 0.2, 0.15, 0.15, 0.15, 0.15, 0.15, 0.15],
    [0, 0.05, 0.05, 0.05, 0.05, 0.1, 0.1, 0.3, 0.3, 0.3, 0.2, 0.2, 0.2, 0.2, 0.2, 0.15, 0.15, 0.15, 0.1],
]

# significant time points, keyed by (row, column)
sig_unadjusted = {
    (0, 1): [0, 12, 16, 18, 22, 24, 32, 34], (0, 6): [10],
    (1, 1): [8, 22, 24, 32, 34, 36], (1, 3): [20, 22], (1, 6): [10, 12, 14],
    (2, 0): [10, 26, 28], (2, 1): [6, 8, 10, 12, 24], (2, 2): [0, 4, 6, 8, 10], (2, 5): [0, 2, 4, 6],
    (3, 2): [0, 32, 34], (3, 3): [0], (3, 4): [0, 2], (3, 6): [12, 14, 16], (3, 7): [6, 8],
    (4, 2): [0, 4, 6, 20, 28], (4, 5): [4, 6], (4, 6): [0],
    (5, 0): [0], (5, 1): [4, 6, 36], (5, 3): [26, 34], (5, 4): [4], (5, 5): [22, 24], (5, 6): [10],
}
sig_adjusted = {(0, 1): [6, 8, 10, 20], (4, 2): [18], (5, 3): [28, 36]}
thick_panels = [(0, 1), (1, 1), (1, 3), (1, 6), (2, 1), (2, 2), (2, 5), (3, 2), (3, 6), (3, 7),
                (4, 2), (4, 5), (5, 1), (5, 3), (5, 5)]

# ---------------- layout ----------------
W, H = 1772, 977
fig = plt.figure(figsize=(W / 100, H / 100), dpi=100)


def X(px):
    return px / W


def Y(px):
    return 1 - px / H


frame_left = [92, 283, 477, 678.5, 866, 1060.5, 1255.5, 1449.5]
row_top = [55.5, 193, 366, 517.5, 693.5, 845]
FW, FH = 169, 127

colors = {
    'HbO': ('#FF1A1A', '#A3243B'),
    'HbR': ('#3A8FD3', '#8E44AD'),
}
sig_green = '#22E022'
rows = [
    ('HbO', yhc_hbo_hard, yhc_hbo_easy, yhc_hbo_hard_err, yhc_hbo_easy_err),
    ('HbR', yhc_hbr_hard, yhc_hbr_easy, yhc_hbr_hard_err, yhc_hbr_easy_err),
    ('HbO', ohc_hbo_hard, ohc_hbo_easy, ohc_hbo_hard_err, ohc_hbo_easy_err),
    ('HbR', ohc_hbr_hard, ohc_hbr_easy, ohc_hbr_hard_err, ohc_hbr_easy_err),
    ('HbO', stroke_hbo_hard, stroke_hbo_easy, stroke_hbo_hard_err, stroke_hbo_easy_err),
    ('HbR', stroke_hbr_hard, stroke_hbr_easy, stroke_hbr_hard_err, stroke_hbr_easy_err),
]


def runs(ts):
    out = []
    for t in ts:
        if out and t - out[-1][-1] == 2:
            out[-1].append(t)
        else:
            out.append([t])
    return out


xt = [0, 10, 20, 30]
for r, (kind, hard, easy, herr, eerr) in enumerate(rows):
    ch, ce = colors[kind]
    lim = 4.5 if kind == 'HbO' else 2.5
    yt = [-4, -2, 0, 2, 4] if kind == 'HbO' else [-2, 0, 2]
    for c in range(len(hard)):
        L, T = frame_left[c], row_top[r]
        ax = fig.add_axes([X(L + 22), Y(T + 23 + 82), 130 / W, 82 / H])
        ax.errorbar(time_s, easy[c], yerr=eerr[c], color=ce, lw=0.9, elinewidth=0.7,
                    capsize=1.3, capthick=0.7, zorder=2)
        ax.errorbar(time_s, hard[c], yerr=herr[c], color=ch, lw=0.9, elinewidth=0.7,
                    capsize=1.3, capthick=0.7, zorder=3)
        for sig, col in ((sig_unadjusted, sig_green), (sig_adjusted, 'black')):
            for run in runs(sig.get((r, c), [])):
                ys = [(hard[c][time_s.index(t)] + easy[c][time_s.index(t)]) / 2 for t in run]
                ax.plot(run, ys, color=col, lw=2.6, marker='o', ms=2.6, zorder=5)
        ax.set_xlim(-2, 37.2)
        ax.set_ylim(-lim, lim)
        ax.set_xticks(xt)
        ax.set_xticklabels([str(v) for v in xt], fontsize=12.5, fontweight='bold')
        ax.set_yticks(yt)
        ax.set_yticklabels([str(v) for v in yt], fontsize=12.5, fontweight='bold')
        ax.tick_params(direction='in', length=2, width=0.5, color='#C8C8C8',
                       top=True, right=True, labelcolor='black')
        ax.tick_params(axis='x', pad=5.5)
        ax.tick_params(axis='y', pad=1.5)
        for sp in ax.spines.values():
            sp.set_color('#CFCFCF')
            sp.set_linewidth(0.6)
        ax.patch.set_visible(False)
        ax.text(0.01, 1.015, r'$\times\mathregular{10^{-7}}$', transform=ax.transAxes,
                fontsize=13, ha='left', va='baseline')
        thick = (r, c) in thick_panels
        fig.add_artist(Rectangle((X(L), Y(T + FH)), FW / W, FH / H, transform=fig.transFigure,
                                 fill=False, ec='black', lw=3.8 if thick else 1.3, zorder=10))

# ---------------- text ----------------
underlined = []
header_x = [194, 367, 562, 758, 949, 1145, 1338, 1531]
for name, hx in zip(regions, header_x):
    t = fig.text(X(hx), Y(27.5), name, ha='center', va='baseline', fontsize=23.5)
    underlined.append((t, 32, 2.2))

group_pos = [(61.7, 90.7), (368, 397), (686.7, 716.7)]
for (g, n), (yb, nb) in zip(groups, group_pos):
    t = fig.text(X(39), Y(yb), g, ha='center', va='baseline', fontsize=18.5)
    underlined.append((t, yb + 2.5, 1.6))
    fig.text(X(39), Y(nb), n, ha='center', va='baseline', fontsize=18.5)

row_label_y = [129, 267, 437, 582, 757, 908]
for (kind, *_), ry in zip(rows, row_label_y):
    fig.text(X(39), Y(ry), kind, ha='center', va='center', fontsize=18.5)

for ry in (row_label_y[4], row_label_y[5]):
    fig.text(X(1533), Y(ry - 3), 'n/a', ha='center', va='center', fontsize=18.5)

for sy in (342.5, 674):
    fig.add_artist(Line2D([X(99), X(1619)], [Y(sy), Y(sy)], transform=fig.transFigure,
                          color='#555555', lw=0.8))

# ---------------- key ----------------
fig.add_artist(Rectangle((X(1627.5), Y(709)), 140.5 / W, 435 / H, transform=fig.transFigure,
                         fill=False, ec='black', lw=1.3))
t = fig.text(X(1686), Y(298), 'Key', ha='center', va='baseline', fontsize=18.5)
underlined.append((t, 301, 1.6))
fig.text(X(1637), Y(327), 'HbO', ha='left', va='center', fontsize=15.5)
fig.text(X(1647), Y(458), 'HbR', ha='left', va='center', fontsize=15.5)
key_items = [(357, '#FF2A2A', 'Hard'), (389, '#A8304A', 'Easy'),
             (488, '#4A92CC', 'Hard'), (519, '#9B59A8', 'Easy')]
for ky, kc, kl in key_items:
    fig.add_artist(Rectangle((X(1632), Y(ky + 21)), 21 / W, 21 / H, transform=fig.transFigure,
                             fc=kc, ec='none'))
    fig.text(X(1658), Y(ky + 11), kl, ha='left', va='center', fontsize=15.5)
fig.text(X(1632), Y(593), 'Significant', ha='left', va='center', fontsize=15.5)
for ky, kc, kl in ((626, '#2DC26B', 'unadjusted'), (663, 'black', 'adjusted')):
    fig.add_artist(Line2D([X(1641)], [Y(ky)], transform=fig.transFigure, marker='o',
                          ms=14, color=kc, mec=kc))
    fig.text(X(1656), Y(ky), kl, ha='left', va='center', fontsize=15.5)

# underlines
fig.canvas.draw()
renderer = fig.canvas.get_renderer()
for t, yu, lw in underlined:
    bb = t.get_window_extent(renderer)
    fig.add_artist(Line2D([bb.x0 / W, bb.x1 / W], [Y(yu), Y(yu)], transform=fig.transFigure,
                          color='black', lw=lw))

fig.savefig('out.png', dpi=100)
